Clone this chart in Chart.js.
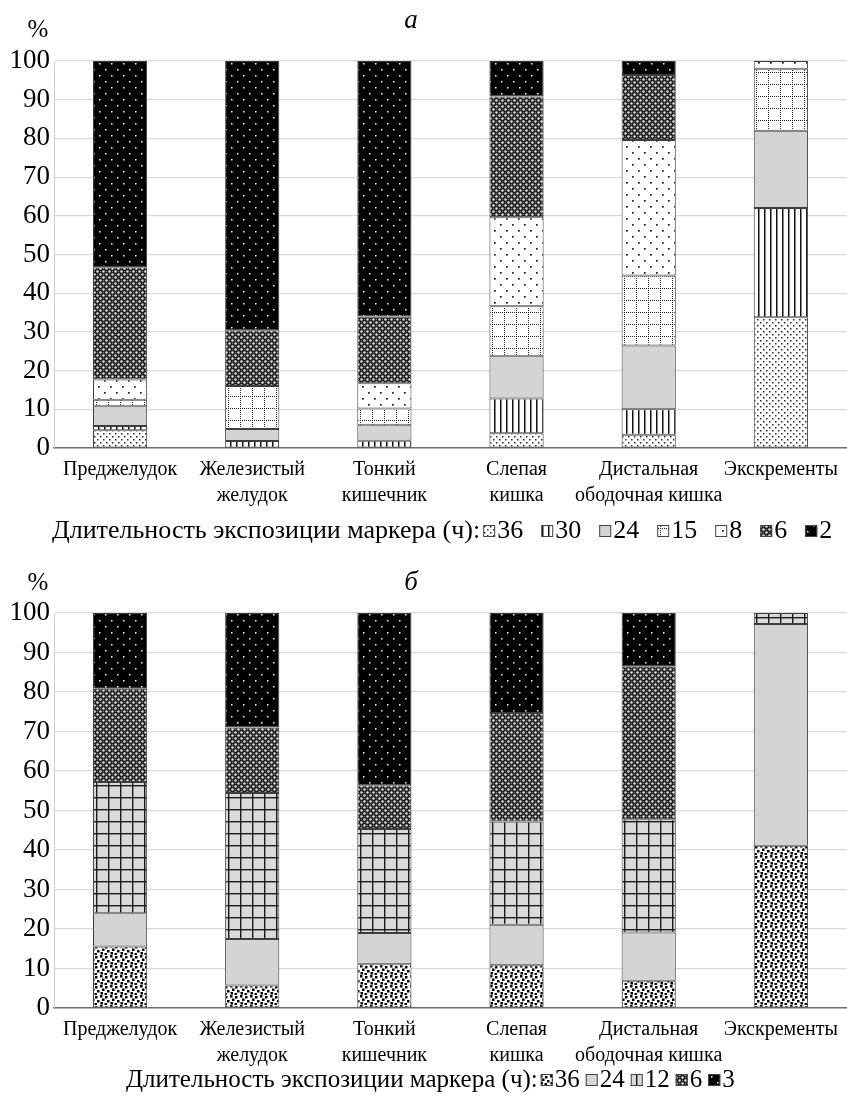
<!DOCTYPE html>
<html>
<head>
<meta charset="utf-8">
<script src="https://cdn.jsdelivr.net/npm/chart.js@4.4.1/dist/chart.umd.min.js"></script>
<style>
  html, body { margin: 0; padding: 0; background: #fff; }
  canvas { display: block; }
</style>
</head>
<body>
<canvas id="chartA" width="847" height="545"></canvas>
<canvas id="chartB" width="847" height="554"></canvas>
<script>
// Sections of the digestive tract (x categories)
const categories = [
  ['Преджелудок'],
  ['Железистый', 'желудок'],
  ['Тонкий', 'кишечник'],
  ['Слепая', 'кишка'],
  ['Дистальная', 'ободочная кишка'],
  ['Экскременты']
];
const yTicks = [0, 10, 20, 30, 40, 50, 60, 70, 80, 90, 100];
const legendTitle = 'Длительность экспозиции маркера (ч):';

// Panel а: share of marker (%) by exposure duration, hours
const hoursA = ['36', '30', '24', '15', '8', '6', '2'];
const a36 = [4.6, 0, 0, 3.8, 3.4, 33.8];
const a30 = [1.1, 1.8, 1.9, 9.0, 6.6, 28.2];
const a24 = [5.1, 3.1, 4.0, 10.9, 16.5, 20.0];
const a15 = [1.7, 11.1, 4.3, 12.9, 18.1, 16.0];
const a8  = [5.2, 0, 6.5, 23.0, 35.0, 2.0];
const a6  = [29.0, 14.4, 17.3, 31.2, 16.8, 0];
const a2  = [53.3, 69.6, 66.0, 9.2, 3.6, 0];

// Panel б
const hoursB = ['36', '24', '12', '6', '3'];
const b36 = [15.6, 5.7, 11.1, 10.8, 6.9, 41.1];
const b24 = [8.4, 11.8, 7.9, 10.3, 12.2, 56.1];
const b12 = [33.2, 36.9, 26.3, 26.1, 28.7, 2.8];
const b6  = [23.6, 16.6, 11.1, 27.5, 38.7, 0];
const b3  = [19.2, 29.0, 43.6, 25.3, 13.5, 0];

const SERIF = "'Liberation Serif', 'Times New Roman', serif";

// ---- fill patterns ----
function tile(w, h, paint) {
  const c = document.createElement('canvas');
  c.width = w; c.height = h;
  const g = c.getContext('2d');
  paint(g, w, h);
  return g.createPattern(c, 'repeat');
}
const fillGrey = '#d3d4d6';
const patSpeckle = tile(6, 6, (g) => {
  g.fillStyle = '#fff'; g.fillRect(0, 0, 6, 6);
  g.fillStyle = '#2a2a2a';
  g.fillRect(1, 1, 1.5, 1.5); g.fillRect(4, 4, 1.5, 1.5);
});
const patVLines = tile(6, 6, (g) => {
  g.fillStyle = '#fff'; g.fillRect(0, 0, 6, 6);
  g.fillStyle = '#111'; g.fillRect(2, 0, 1.5, 6);
});
const patDottedGrid = tile(12, 12, (g) => {
  g.fillStyle = '#fff'; g.fillRect(0, 0, 12, 12);
  g.fillStyle = '#222';
  for (let i = 0; i < 6; i++) { g.fillRect(0, i * 2, 1, 1); g.fillRect(i * 2, 0, 1, 1); }
});
const patSparseDots = tile(12, 12, (g) => {
  g.fillStyle = '#fff'; g.fillRect(0, 0, 12, 12);
  g.fillStyle = '#1a1a1a';
  g.fillRect(2, 2, 1.7, 1.7); g.fillRect(8, 8, 1.7, 1.7);
});
const patCross = tile(6, 6, (g) => {
  g.fillStyle = '#1e1e1e'; g.fillRect(0, 0, 6, 6);
  g.fillStyle = '#e2e2e2';
  g.beginPath(); g.arc(1.5, 1.5, 1.3, 0, Math.PI * 2); g.arc(4.5, 4.5, 1.3, 0, Math.PI * 2); g.fill();
  g.fillStyle = '#8a8a8a';
  g.fillRect(4, 1, 1, 1); g.fillRect(1, 4, 1, 1);
});
const patDarkDots = tile(12, 12, (g) => {
  g.fillStyle = '#000'; g.fillRect(0, 0, 12, 12);
  g.fillStyle = '#fff';
  g.fillRect(3, 3, 1.5, 1.5); g.fillRect(9, 9, 1.5, 1.5);
});
const patConfetti = tile(10, 10, (g) => {
  g.fillStyle = '#fff'; g.fillRect(0, 0, 10, 10);
  g.fillStyle = '#000';
  [[0, 0], [5, 1], [2, 3.5], [7, 5], [0.5, 7], [4.5, 8]].forEach(([x, y]) => g.fillRect(x, y, 2.5, 2.5));
});
const patGreyGrid = tile(12, 12, (g) => {
  g.fillStyle = '#d9dadc'; g.fillRect(0, 0, 12, 12);
  g.fillStyle = '#1a1a1a';
  g.fillRect(0, 0, 12, 1.4); g.fillRect(0, 0, 1.4, 12);
});

// ---- plugins: inline legend row and panel captions ----
const markerLegend = {
  id: 'markerLegend',
  afterDraw(chart, args, o) {
    const ctx = chart.ctx;
    ctx.save();
    ctx.font = o.size + 'px ' + SERIF;
    ctx.textBaseline = 'alphabetic';
    ctx.textAlign = 'left';
    ctx.fillStyle = '#000';
    let x = o.x;
    const y = o.y;
    ctx.fillText(legendTitle, x, y);
    x += ctx.measureText(legendTitle).width + o.titleGap;
    chart.data.datasets.forEach(ds => {
      const b = o.box;
      ctx.fillStyle = ds.backgroundColor;
      ctx.fillRect(x, y - b - 1, b, b);
      ctx.strokeStyle = '#444';
      ctx.lineWidth = 1;
      ctx.strokeRect(x + 0.5, y - b - 0.5, b - 1, b - 1);
      x += b + o.boxGap;
      ctx.fillStyle = '#000';
      ctx.fillText(ds.label, x, y);
      x += ctx.measureText(ds.label).width + o.itemGap;
    });
    ctx.restore();
  }
};
const panelText = {
  id: 'panelText',
  afterDraw(chart, args, o) {
    const ctx = chart.ctx;
    ctx.save();
    ctx.fillStyle = '#000';
    ctx.textAlign = 'center';
    ctx.textBaseline = 'alphabetic';
    ctx.font = 'italic 27px ' + SERIF;
    ctx.fillText(o.letter, o.letterX, o.letterY);
    ctx.font = '25px ' + SERIF;
    ctx.fillText('%', o.unitX, o.unitY);
    ctx.restore();
  }
};

function makeChart(id, series, hours, fills, layout) {
  const datasets = series.map((data, i) => ({
    label: hours[i],
    data: data,
    backgroundColor: fills[i],
    borderColor: '#3d3d3d',
    borderWidth: 1,
    borderSkipped: false,
    categoryPercentage: 1,
    barPercentage: 0.41
  }));
  return new Chart(document.getElementById(id), {
    type: 'bar',
    data: { labels: categories, datasets },
    plugins: [markerLegend, panelText],
    options: {
      responsive: false,
      animation: false,
      layout: { padding: { top: layout.top, left: 0, right: 0, bottom: 0 } },
      plugins: {
        legend: { display: false },
        tooltip: { enabled: false },
        markerLegend: layout.legend,
        panelText: layout.text
      },
      scales: {
        x: {
          stacked: true,
          grid: { display: false, drawTicks: false },
          border: { display: true, color: '#707070', width: 1.5 },
          afterFit: s => { s.height = layout.xHeight; },
          ticks: {
            font: { family: SERIF, size: 20, lineHeight: 1.3 },
            color: '#000', padding: 9, maxRotation: 0, autoSkip: false
          }
        },
        y: {
          stacked: true, min: 0, max: 100,
          afterBuildTicks: s => { s.ticks = yTicks.map(v => ({ value: v })); },
          afterFit: s => { s.width = 54; },
          grid: { color: '#dadada', lineWidth: 1.2, drawTicks: false },
          border: { display: true, color: '#d0d0d0', width: 1 },
          ticks: { font: { family: SERIF, size: 27 }, color: '#000', padding: 4 }
        }
      }
    }
  });
}

makeChart('chartA',
  [a36, a30, a24, a15, a8, a6, a2], hoursA,
  [patSpeckle, patVLines, fillGrey, patDottedGrid, patSparseDots, patCross, patDarkDots],
  {
    top: 61, xHeight: 97,
    legend: { x: 52, y: 538, size: 26, box: 12, boxGap: 2, titleGap: 3, itemGap: 18 },
    text: { letter: 'а', letterX: 411, letterY: 28, unitX: 38, unitY: 37 }
  });

makeChart('chartB',
  [b36, b24, b12, b6, b3], hoursB,
  [patConfetti, fillGrey, patGreyGrid, patCross, patDarkDots],
  {
    top: 68, xHeight: 91,
    legend: { x: 126, y: 542, size: 25, box: 12, boxGap: 2, titleGap: 3, itemGap: 6 },
    text: { letter: 'б', letterX: 411, letterY: 45, unitX: 38, unitY: 45 }
  });
</script>
</body>
</html>
